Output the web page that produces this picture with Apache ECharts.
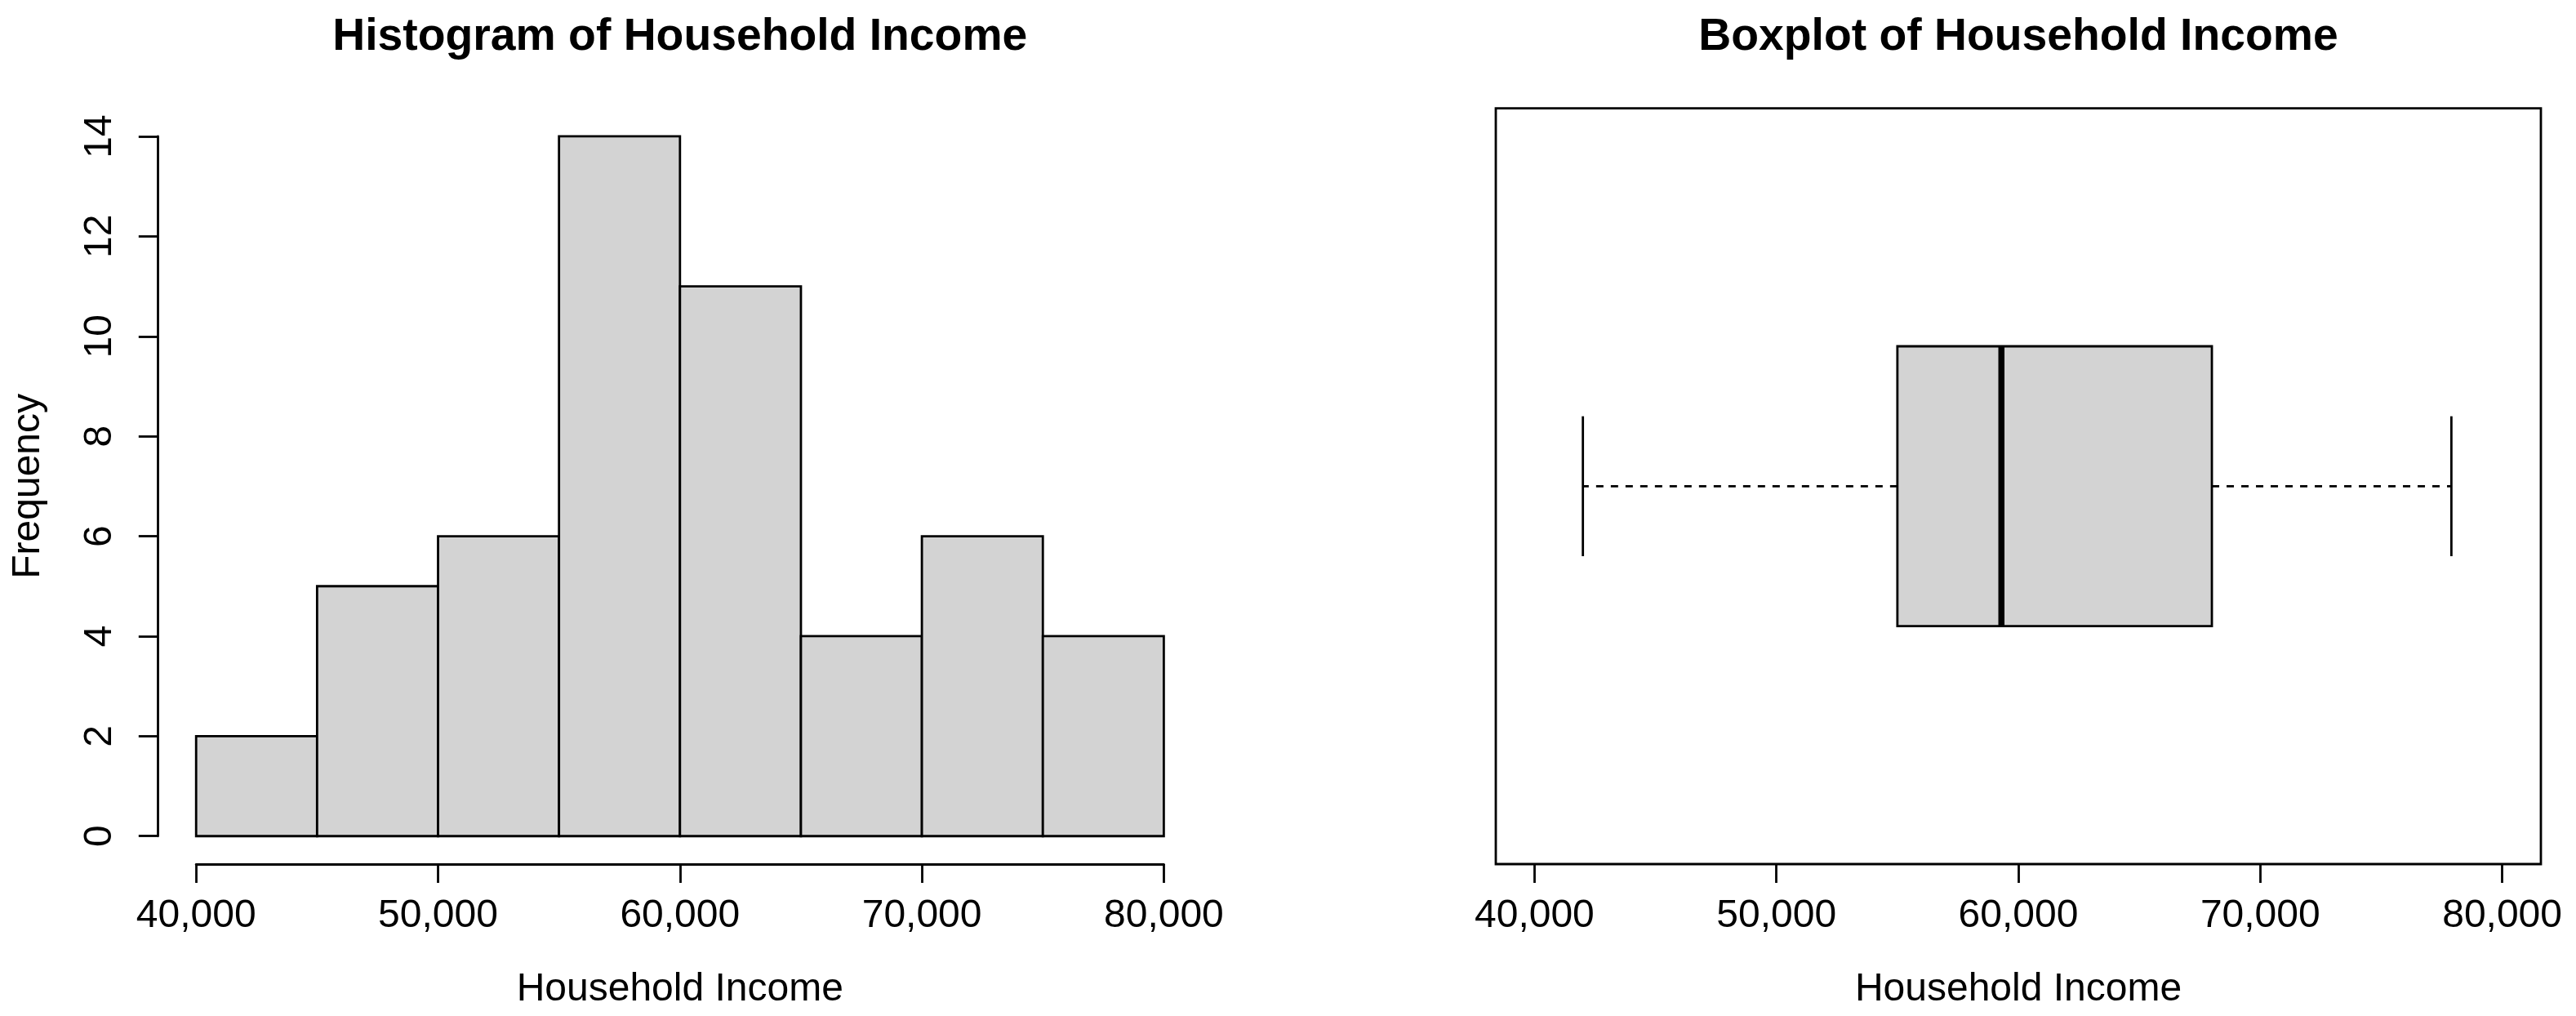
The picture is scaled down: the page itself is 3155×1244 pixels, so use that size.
<!DOCTYPE html>
<html>
<head>
<meta charset="utf-8">
<script src="https://cdn.jsdelivr.net/npm/echarts@6/dist/echarts.min.js"></script>
<style>
html,body{margin:0;padding:0;background:#fff;}
#chart{width:3155px;height:1244px;}
</style>
</head>
<body>
<div id="chart"></div>
<script>
// ---- data ----
const breaks = [40000, 45000, 50000, 55000, 60000, 65000, 70000, 75000, 80000];
const counts = [2, 5, 6, 14, 11, 4, 6, 4];
const xTicks = [40000, 50000, 60000, 70000, 80000];
const yTicks = [0, 2, 4, 6, 8, 10, 12, 14];
// min, Q1, median, Q3, max
const boxStats = [42000, 55000, 59300, 68000, 77900];
const titles = ['Histogram of Household Income', 'Boxplot of Household Income'];
const xLabel = 'Household Income';
const yLabel = 'Frequency';

// ---- layout / style ----
const FONT = "'Liberation Sans', Arial, Helvetica, sans-serif";
const LW = 2.8;
const FILL = '#D3D3D3';
const xMin = xTicks[0], xMax = xTicks[xTicks.length - 1];
const xPad = 0.04 * (xMax - xMin);
const yMin = yTicks[0], yMax = yTicks[yTicks.length - 1];
const yPad = 0.04 * (yMax - yMin);
const fmt = v => String(v).replace(/\B(?=(\d{3})+(?!\d))/g, ',');

const plotTop = 132.7, plotH = 925.3, plotW = 1280;
const histLeft = 192.8, boxLeft = 1832;
const pxPerUnit = plotW / (xMax - xMin + 2 * xPad);
const tickInset = xPad * pxPerUnit;
const tickW = (xMax - xMin) * pxPerUnit;
const yPxPerUnit = plotH / (yMax - yMin + 2 * yPad);

const labelStyle = {color: '#000', fontSize: 48, fontFamily: FONT};

function visibleX(gridIndex, showLine) {
  return {
    gridIndex, type: 'value', min: xMin, max: xMax, interval: 10000,
    axisLine: {show: showLine, lineStyle: {color: '#000', width: LW}},
    axisTick: {show: true, length: 23, lineStyle: {color: '#000', width: LW}},
    axisLabel: Object.assign({margin: 40, formatter: fmt}, labelStyle),
    splitLine: {show: false},
    name: xLabel, nameLocation: 'middle', nameGap: 130,
    nameTextStyle: labelStyle
  };
}

const titleStyle = {fontSize: 55.3, fontWeight: 'bold', color: '#000', fontFamily: FONT};

const option = {
  backgroundColor: '#fff',
  animation: false,
  title: [
    {text: titles[0], left: histLeft + plotW / 2, top: 18, padding: 0, textAlign: 'center', textStyle: titleStyle},
    {text: titles[1], left: boxLeft + plotW / 2, top: 18, padding: 0, textAlign: 'center', textStyle: titleStyle}
  ],
  grid: [
    {left: histLeft, top: plotTop, width: plotW, height: plotH, containLabel: false},
    {left: histLeft + tickInset, top: plotTop, width: tickW, height: plotH},
    {left: histLeft, top: plotTop + yPad * yPxPerUnit, width: plotW, height: (yMax - yMin) * yPxPerUnit},
    {left: boxLeft, top: plotTop, width: plotW, height: plotH, show: true, borderColor: '#000', borderWidth: LW, backgroundColor: 'transparent'},
    {left: boxLeft + tickInset, top: plotTop, width: tickW, height: plotH}
  ],
  xAxis: [
    {gridIndex: 0, type: 'value', min: xMin - xPad, max: xMax + xPad, show: false},
    visibleX(1, true),
    {gridIndex: 2, type: 'value', min: xMin - xPad, max: xMax + xPad, show: false},
    {gridIndex: 3, type: 'value', min: xMin - xPad, max: xMax + xPad, show: false},
    visibleX(4, false)
  ],
  yAxis: [
    {gridIndex: 0, type: 'value', min: yMin - yPad, max: yMax + yPad, show: false},
    {gridIndex: 1, type: 'value', min: 0, max: 1, show: false},
    {gridIndex: 2, type: 'value', min: yMin, max: yMax, interval: 2,
     axisLine: {show: true, lineStyle: {color: '#000', width: LW}},
     axisTick: {show: true, length: 23, lineStyle: {color: '#000', width: LW}},
     axisLabel: Object.assign({rotate: 90, margin: 46}, labelStyle),
     splitLine: {show: false},
     name: yLabel, nameLocation: 'middle', nameRotate: 90, nameGap: 134,
     nameTextStyle: labelStyle},
    {gridIndex: 3, type: 'value', min: 0.46, max: 1.54, show: false},
    {gridIndex: 4, type: 'value', min: 0, max: 1, show: false}
  ],
  series: [
    {
      type: 'custom',
      xAxisIndex: 0, yAxisIndex: 0,
      data: counts.map((c, i) => [breaks[i], breaks[i + 1], c]),
      encode: {x: [0, 1], y: 2},
      renderItem: function (params, api) {
        const p0 = api.coord([api.value(0), api.value(2)]);
        const p1 = api.coord([api.value(1), 0]);
        return {
          type: 'rect',
          shape: {x: p0[0], y: p0[1], width: p1[0] - p0[0], height: p1[1] - p0[1]},
          style: {fill: FILL, stroke: '#000', lineWidth: LW}
        };
      }
    },
    {
      type: 'custom',
      xAxisIndex: 3, yAxisIndex: 3,
      data: [boxStats.concat([1])],
      encode: {x: [0, 1, 2, 3, 4], y: 5},
      renderItem: function (params, api) {
        const c = api.value(5);
        const lo = api.value(0), q1 = api.value(1), md = api.value(2), q3 = api.value(3), hi = api.value(4);
        const yc = api.coord([lo, c])[1];
        const yt = api.coord([lo, c + 0.2])[1];
        const yb = api.coord([lo, c - 0.2])[1];
        const ct = api.coord([lo, c + 0.1])[1];
        const cb = api.coord([lo, c - 0.1])[1];
        const X = v => api.coord([v, c])[0];
        const dash = {stroke: '#000', lineWidth: LW, lineDash: [9, 9], fill: null};
        const solid = {stroke: '#000', lineWidth: LW, fill: null};
        return {
          type: 'group',
          children: [
            {type: 'line', shape: {x1: X(q1), y1: yc, x2: X(lo), y2: yc}, style: dash},
            {type: 'line', shape: {x1: X(q3), y1: yc, x2: X(hi), y2: yc}, style: dash},
            {type: 'line', shape: {x1: X(lo), y1: ct, x2: X(lo), y2: cb}, style: solid},
            {type: 'line', shape: {x1: X(hi), y1: ct, x2: X(hi), y2: cb}, style: solid},
            {type: 'rect', shape: {x: X(q1), y: yt, width: X(q3) - X(q1), height: yb - yt},
             style: {fill: FILL, stroke: '#000', lineWidth: LW}},
            {type: 'line', shape: {x1: X(md), y1: yt, x2: X(md), y2: yb},
             style: {stroke: '#000', lineWidth: 7.5}}
          ]
        };
      }
    }
  ]
};

const chart = echarts.init(document.getElementById('chart'), null, {renderer: 'canvas'});
chart.setOption(option);
</script>
</body>
</html>
